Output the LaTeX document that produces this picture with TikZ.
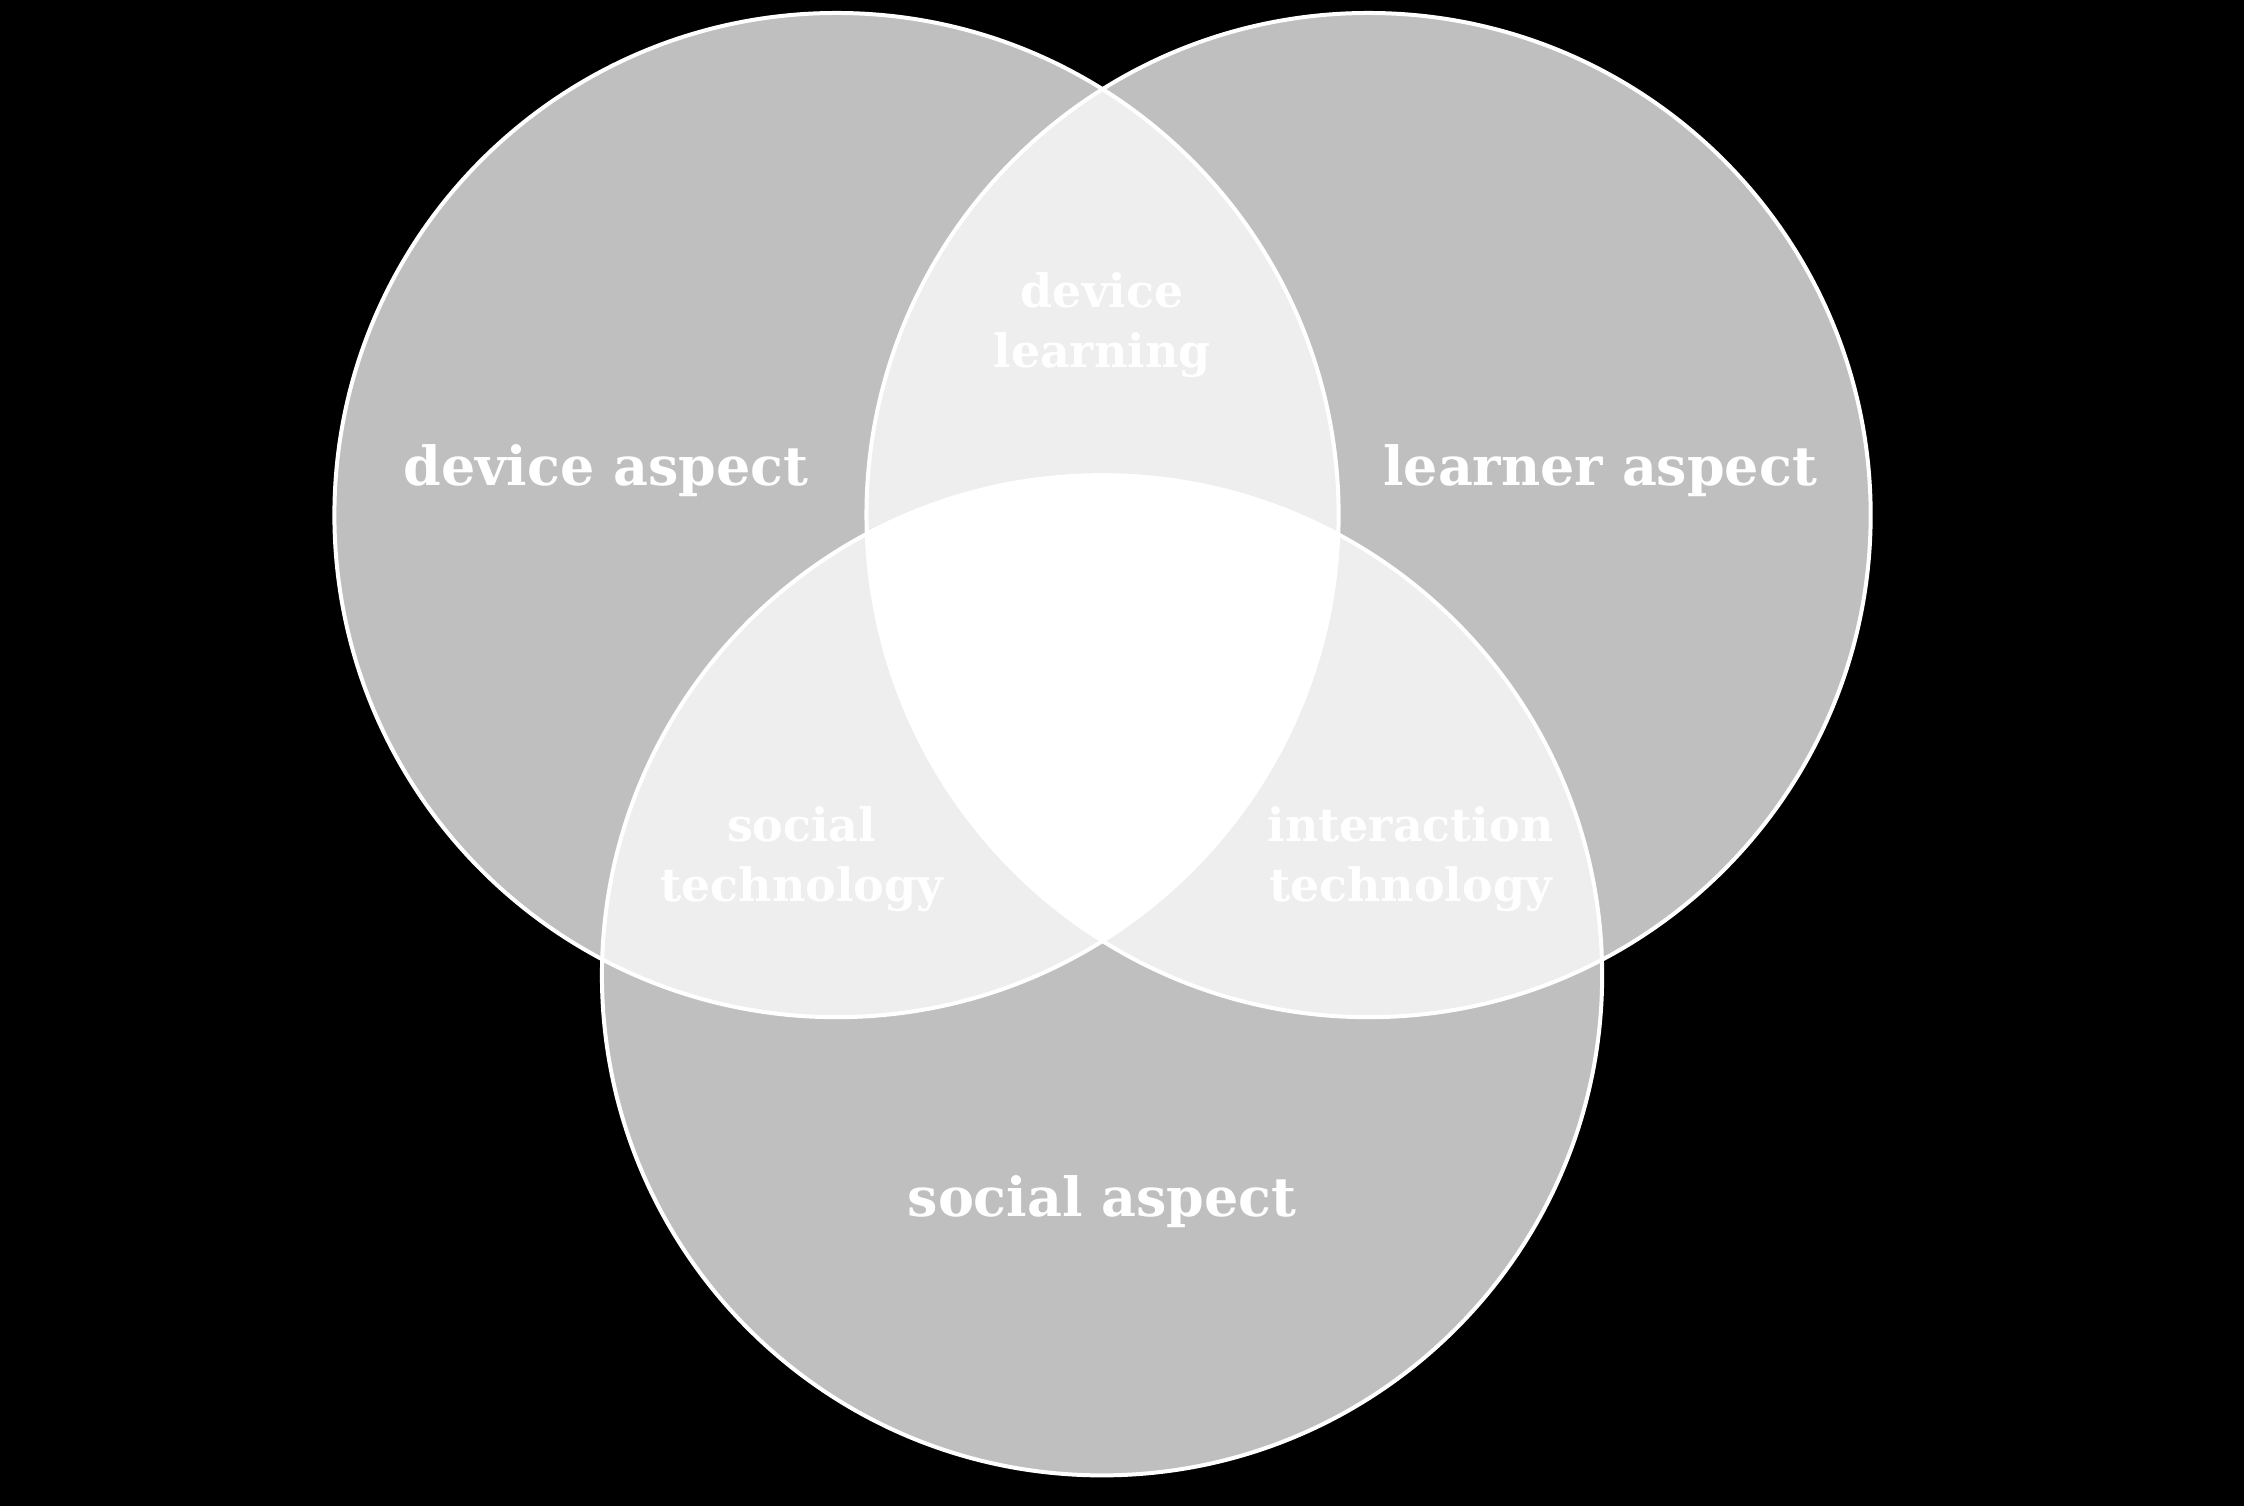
\documentclass[tikz,border=0pt]{standalone}
\usepackage{fontspec}
\setmainfont{DejaVu Serif}
\begin{document}
\begin{tikzpicture}[x=1pt,y=-1pt,
  biglabel/.style={text=white, font=\fontsize{54}{60}\selectfont\bfseries, align=center},
  smalllabel/.style={text=white, font=\fontsize{46}{60}\selectfont\bfseries, align=center}]
\fill[black] (-2,-2) rectangle (2246,1507);
\useasboundingbox (0,0) rectangle (2244,1505);
\coordinate (cl) at (836,514);
\coordinate (cr) at (1369,514);
\coordinate (cb) at (1102,975);
\fill[white, fill opacity=0.75] (cl) circle[radius=503];
\fill[white, fill opacity=0.75] (cr) circle[radius=503];
\fill[white, fill opacity=0.75] (cb) circle[radius=501];
\begin{scope}
  \clip (cl) circle[radius=503];
  \clip (cr) circle[radius=503];
  \fill[white] (cb) circle[radius=501];
\end{scope}
\draw[white, line width=4pt] (cl) circle[radius=503];
\draw[white, line width=4pt] (cr) circle[radius=503];
\draw[white, line width=4pt] (cb) circle[radius=501];
\node[biglabel] (dev) at (605,469) {device aspect};
\node[biglabel] (lea) at (1601,469) {learner aspect};
\node[biglabel] (soc) at (1102,1202) {social aspect};
\node[smalllabel] (dl) at (1102,324) {device\\learning};
\node[smalllabel] (st) at (801,859) {social\\technology};
\node[smalllabel] (it) at (1411,859) {interaction\\technology};
\end{tikzpicture}
\end{document}
